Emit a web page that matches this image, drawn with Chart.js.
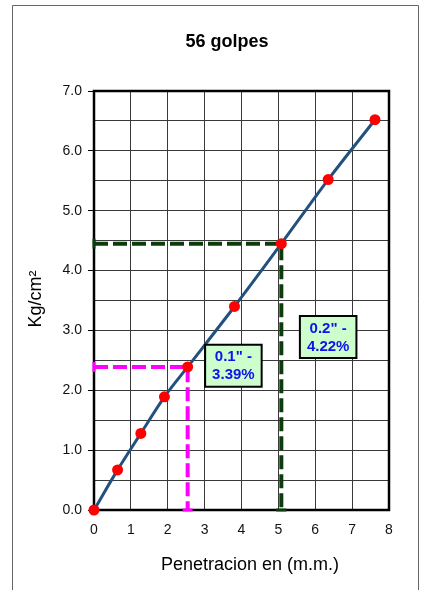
<!DOCTYPE html>
<html>
<head>
<meta charset="utf-8">
<script src="https://cdn.jsdelivr.net/npm/chart.js@4"></script>
<style>
  body { margin: 0; background: #fff; }
  #chart { display: block; }
</style>
</head>
<body>
<canvas id="chart" width="425" height="590"></canvas>
<script>
// penetration (mm) and load (kg/cm2)
const penetracion = [0, 0.64, 1.27, 1.91, 2.54, 3.81, 5.08, 6.35, 7.62];
const carga = [0, 0.67, 1.28, 1.89, 2.39, 3.40, 4.45, 5.52, 6.52];

// reference readings at 0.1" and 0.2"
const refIndex = [4, 6];
const refInch = ['0.1"', '0.2"'];
const cbr = [3.39, 4.22];

const xTicks = [0, 1, 2, 3, 4, 5, 6, 7, 8];
const yTicks = [0, 1, 2, 3, 4, 5, 6, 7];

const chartTitle = '56 golpes';
const xTitle = 'Penetracion en (m.m.)';
const yTitle = 'Kg/cm²';

const refColors = ['#ff00ff', '#0b3d0b'];

function dashLine(i) {
    const k = refIndex[i];
    return {
        data: [
            { x: 0, y: carga[k] },
            { x: penetracion[k], y: carga[k] },
            { x: penetracion[k], y: 0 }
        ],
        borderColor: refColors[i],
        borderWidth: 4,
        borderDash: [14, 5],
        tension: 0,
        pointStyle: 'line',
        pointRadius: [5, 0, 5],
        pointRotation: [90, 0, 0],
        pointBorderColor: refColors[i],
        pointBorderWidth: 3,
        clip: false,
        order: 2
    };
}

// box placement, in data units
const boxPos = [{ x: 3.78, y: 2.41 }, { x: 6.35, y: 2.89 }];

const pagePlugin = {
    id: 'page',
    beforeDraw(chart) {
        const c = chart.ctx;
        c.save();
        c.fillStyle = '#fff';
        c.fillRect(0, 0, chart.width, chart.height);
        c.strokeStyle = '#666';
        c.lineWidth = 1;
        c.beginPath();
        c.moveTo(12.5, 600);
        c.lineTo(12.5, 5.5);
        c.lineTo(418.5, 5.5);
        c.lineTo(418.5, 600);
        c.stroke();
        c.restore();
    },
    beforeDatasetsDraw(chart) {
        const a = chart.chartArea;
        const c = chart.ctx;
        c.save();
        c.strokeStyle = '#000';
        c.lineWidth = 2.5;
        c.strokeRect(a.left, a.top, a.right - a.left, a.bottom - a.top);
        c.restore();
    },
    afterDatasetsDraw(chart) {
        const c = chart.ctx;
        const xs = chart.scales.x, ys = chart.scales.y;
        c.save();
        c.font = 'bold 15px "Liberation Sans", Arial, sans-serif';
        c.textAlign = 'center';
        c.textBaseline = 'middle';
        refIndex.forEach((k, i) => {
            const lines = [refInch[i] + ' -', cbr[i].toFixed(2) + '%'];
            const w = Math.max(...lines.map(t => c.measureText(t).width)) + 14;
            const h = 42;
            const cx = xs.getPixelForValue(boxPos[i].x);
            const cy = ys.getPixelForValue(boxPos[i].y);
            c.fillStyle = '#ccffcc';
            c.fillRect(cx - w / 2, cy - h / 2, w, h);
            c.strokeStyle = '#000';
            c.lineWidth = 2;
            c.strokeRect(cx - w / 2, cy - h / 2, w, h);
            c.fillStyle = '#1010f0';
            c.fillText(lines[0], cx, cy - 8.5);
            c.fillText(lines[1], cx, cy + 9.5);
        });
        c.restore();
    },
    afterDraw(chart) {
        const c = chart.ctx;
        c.save();
        c.fillStyle = '#000';
        c.textAlign = 'center';
        c.textBaseline = 'middle';
        c.font = 'bold 18px "Liberation Sans", Arial, sans-serif';
        c.fillText(chartTitle, 227, 42);
        c.font = '18px "Liberation Sans", Arial, sans-serif';
        c.fillText(xTitle, 250, 565);
        c.translate(36, 299);
        c.rotate(-Math.PI / 2);
        c.fillText(yTitle, 0, 0);
        c.restore();
    }
};

new Chart(document.getElementById('chart'), {
    type: 'line',
    data: {
        datasets: [
            {
                data: penetracion.map((p, i) => ({ x: p, y: carga[i] })),
                borderColor: '#24507f',
                borderWidth: 3,
                tension: 0.3,
                pointRadius: 5.5,
                pointHoverRadius: 5.5,
                pointBackgroundColor: '#ff0000',
                pointBorderWidth: 0,
                clip: false,
                order: 0
            },
            dashLine(0),
            dashLine(1)
        ]
    },
    options: {
        responsive: false,
        animation: false,
        events: [],
        layout: { padding: { top: 91, right: 36, bottom: 0, left: 0 } },
        plugins: {
            legend: { display: false },
            title: { display: false },
            tooltip: { enabled: false }
        },
        scales: {
            x: {
                type: 'linear',
                min: 0,
                max: 8,
                afterFit(scale) { scale.height = 80; },
                afterBuildTicks(scale) { scale.ticks = xTicks.map(v => ({ value: v })); },
                grid: { color: '#3a3a3a', lineWidth: 1, drawTicks: false },
                border: { display: false },
                ticks: {
                    padding: 12,
                    color: '#111',
                    font: { family: '"Liberation Sans", Arial, sans-serif', size: 14 },
                    callback: v => String(v)
                }
            },
            y: {
                min: 0,
                max: 7,
                afterFit(scale) { scale.width = 94; },
                afterBuildTicks(scale) {
                    const t = [];
                    yTicks.forEach((v, i) => {
                        t.push({ value: v });
                        if (i < yTicks.length - 1) t.push({ value: v + 0.5 });
                    });
                    scale.ticks = t;
                },
                grid: {
                    color: '#3a3a3a',
                    lineWidth: 1,
                    tickLength: 6,
                    tickColor: ctx => (ctx.tick && ctx.tick.value % 1 === 0) ? '#000' : 'rgba(0,0,0,0)'
                },
                border: { display: false },
                ticks: {
                    padding: 6,
                    color: '#111',
                    font: { family: '"Liberation Sans", Arial, sans-serif', size: 14 },
                    callback: v => (v % 1 === 0 ? v.toFixed(1) : '')
                }
            }
        }
    },
    plugins: [pagePlugin]
});
</script>
</body>
</html>
